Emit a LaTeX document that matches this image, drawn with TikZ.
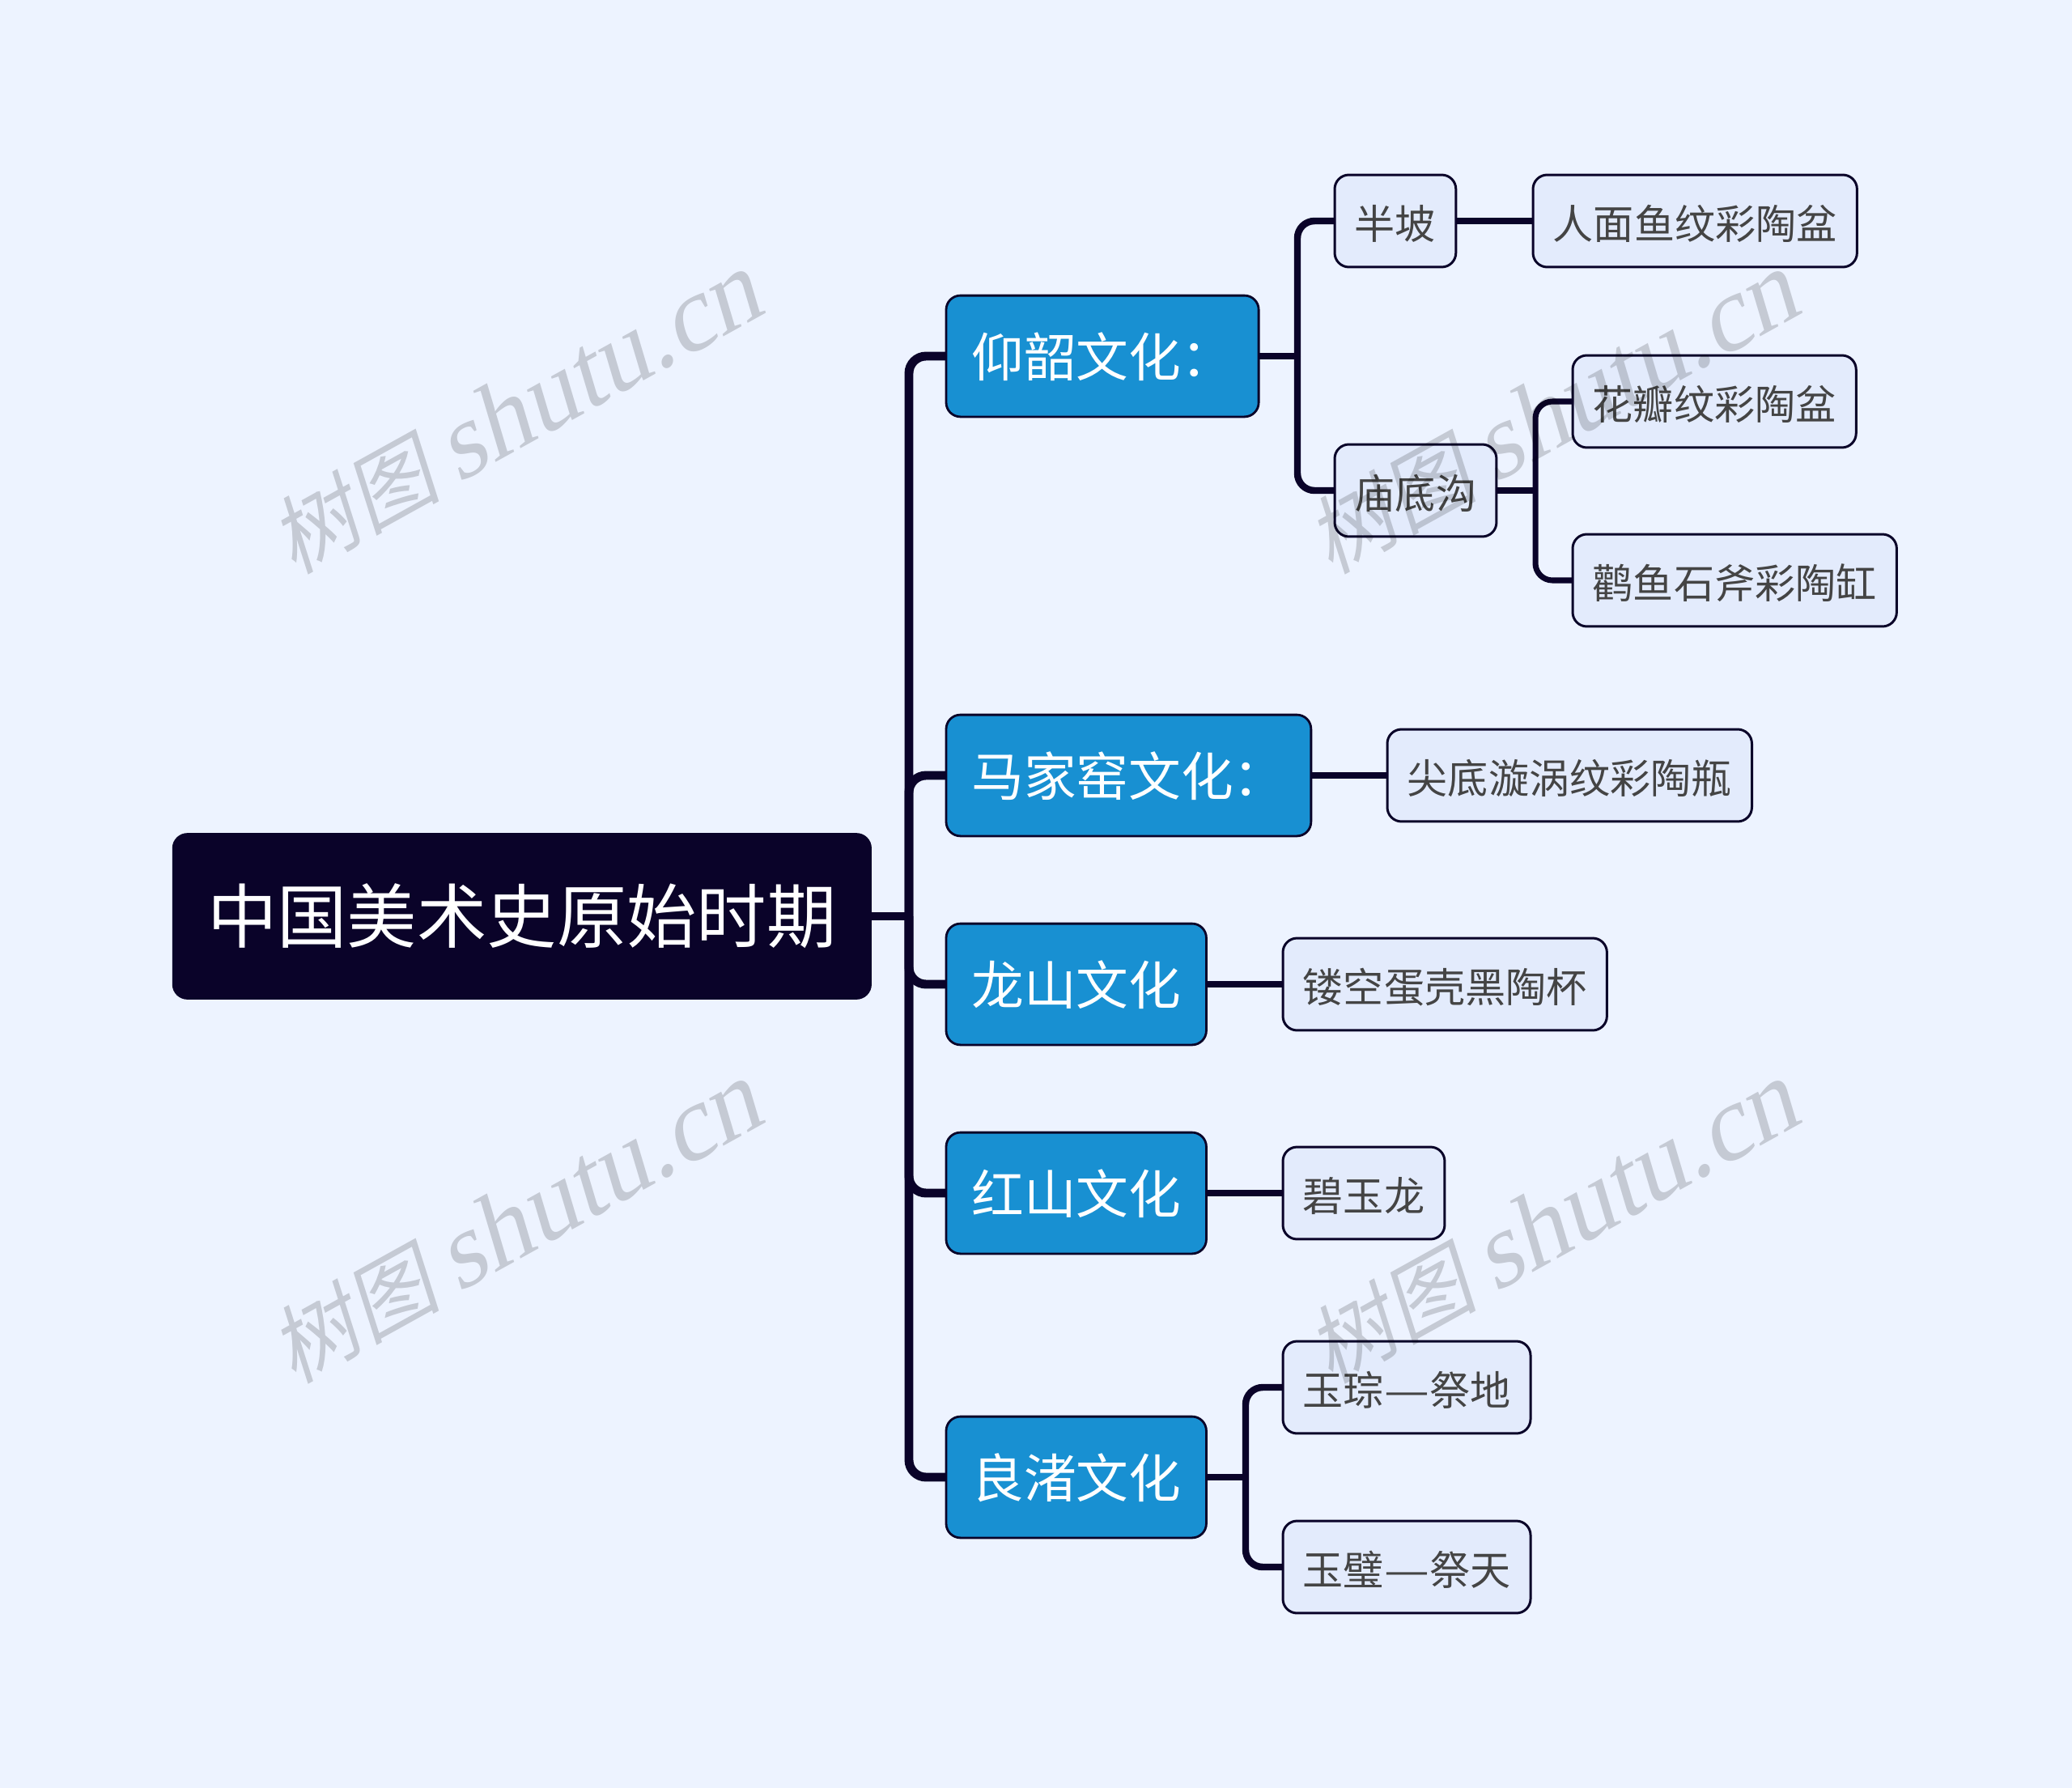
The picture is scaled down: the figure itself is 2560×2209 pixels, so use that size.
\documentclass[tikz,border=0pt]{standalone}
\usepackage{fontspec}
\setmainfont{Noto Sans CJK SC}
\newfontfamily\wmcjk[FakeSlant=0.2]{Noto Sans CJK SC}
\newfontfamily\wmlatin[FakeSlant=0.22]{Liberation Serif}
\definecolor{pagebg}{HTML}{EDF3FF}
\definecolor{inkdark}{HTML}{0A0329}
\definecolor{topicblue}{HTML}{1890D2}
\definecolor{leaffill}{HTML}{E3EBFC}
\definecolor{leaftext}{HTML}{444444}
\def\longdash{\scalebox{1.25}[1]{—}}
\def\marktext{{\wmcjk\fontsize{30pt}{36pt}\selectfont 树图}\hspace{6pt}{\wmlatin\fontsize{37pt}{40pt}\selectfont shutu.cn}}
\tikzset{
	rootbox/.style={draw=inkdark, fill=inkdark, text=white, line width=0.7pt, rounded corners=5pt, anchor=west, outer sep=0pt, inner xsep=12pt, inner ysep=0pt, minimum height=57.8pt, font=\fontsize{24.56pt}{29pt}\selectfont},
	topicbox/.style={draw=inkdark, fill=topicblue, text=white, line width=0.8pt, rounded corners=5pt, anchor=west, outer sep=0pt, inner xsep=8.9pt, inner ysep=0pt, minimum height=42.6pt, text height=14.7pt, text depth=0pt, font=\fontsize{18.4pt}{22pt}\selectfont},
	leafbox/.style={draw=inkdark, fill=leaffill, text=leaftext, line width=0.85pt, rounded corners=5pt, anchor=west, outer sep=0pt, inner xsep=7.05pt, inner ysep=0pt, minimum height=32.4pt, text height=12.8pt, text depth=0pt, font=\fontsize{14.25pt}{17pt}\selectfont},
	trunkline/.style={draw=inkdark, line width=3.1pt, rounded corners=6pt},
	topicline/.style={draw=inkdark, line width=2.4pt, rounded corners=6pt},
	leafline/.style={draw=inkdark, line width=2pt, rounded corners=6pt},
	watermark/.style={text=black, opacity=0.17, rotate=29}
}

\begin{document}
\begin{tikzpicture}[x=0.01cm, y=-0.01cm]
		%%%%% START %%%%%
		
		\fill[pagebg] (0, 0) rectangle (2560, 2209);
		
		\node[rootbox] (history) at (214, 1132) {中国美术史原始时期};
		
		\node[topicbox] (yangshao) at (1169, 440) {仰韶文化：};
		\node[topicbox] (majiayao) at (1169, 958) {马家窑文化：};
		\node[topicbox] (longshan) at (1169, 1216) {龙山文化};
		\node[topicbox] (hongshan) at (1169, 1474) {红山文化};
		\node[topicbox] (liangzhu) at (1169, 1825) {良渚文化};
		
		\node[leafbox] (banpo) at (1649, 273) {半坡};
		\node[leafbox] (renmian) at (1894, 273) {人面鱼纹彩陶盆};
		\node[leafbox] (miaodigou) at (1649, 606) {庙底沟};
		\node[leafbox] (huaban) at (1943, 496) {花瓣纹彩陶盆};
		\node[leafbox] (guanyu) at (1943, 717) {鹳鱼石斧彩陶缸};
		\node[leafbox] (jiandi) at (1714, 958) {尖底漩涡纹彩陶瓶};
		\node[leafbox] (lougong) at (1585, 1216) {镂空蛋壳黑陶杯};
		\node[leafbox] (biyulong) at (1585, 1474) {碧玉龙};
		\node[leafbox] (yucong) at (1585, 1714) {玉琮\longdash 祭地};
		\node[leafbox] (yubi) at (1585, 1936) {玉璧\longdash 祭天};
		
		\coordinate (rootfork) at (1123, 1132);
		\coordinate (yangshaofork) at (1603, 440);
		\coordinate (miaodifork) at (1897, 606);
		\coordinate (liangzhufork) at (1539, 1825);
		
		\draw[trunkline] (history.east) -- (rootfork);
		\draw[trunkline] (rootfork) |- (yangshao.west);
		\draw[trunkline] (rootfork) |- (majiayao.west);
		\draw[trunkline] (rootfork) |- (longshan.west);
		\draw[trunkline] (rootfork) |- (hongshan.west);
		\draw[trunkline] (rootfork) |- (liangzhu.west);
		
		\draw[topicline] (yangshao.east) -- (yangshaofork);
		\draw[topicline] (yangshaofork) |- (banpo.west);
		\draw[topicline] (yangshaofork) |- (miaodigou.west);
		\draw[topicline] (majiayao.east) -- (jiandi.west);
		\draw[topicline] (longshan.east) -- (lougong.west);
		\draw[topicline] (hongshan.east) -- (biyulong.west);
		\draw[topicline] (liangzhu.east) -- (liangzhufork);
		\draw[topicline] (liangzhufork) |- (yucong.west);
		\draw[topicline] (liangzhufork) |- (yubi.west);
		
		\draw[leafline] (banpo.east) -- (renmian.west);
		\draw[leafline] (miaodigou.east) -- (miaodifork);
		\draw[leafline] (miaodifork) |- (huaban.west);
		\draw[leafline] (miaodifork) |- (guanyu.west);
		
		\node[watermark] (markone) at (636, 512) {\marktext};
		\node[watermark] (marktwo) at (1917, 512) {\marktext};
		\node[watermark] (markthree) at (636, 1512) {\marktext};
		\node[watermark] (markfour) at (1917, 1512) {\marktext};
		
		%%%%% END %%%%%
	\end{tikzpicture}
\end{document}
